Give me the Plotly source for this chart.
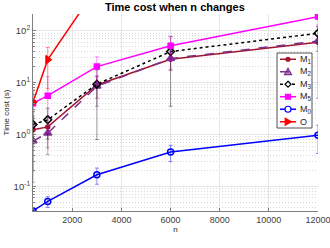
import plotly.graph_objects as go

n = [400, 1000, 3000, 6000, 12000]

m1 = [1.23, 1.4, 9.0, 28, 60]
m1_err = [1.03, 0.85, 4.0, 10, 20]
m2 = [0.75, 1.06, 8.5, 29, 63]
m2_err = [0.63, 0.65, 5.0, 12, 58]
m3 = [1.56, 1.92, 9.3, 39.5, 89]
m3_up = [1.2, 1.3, 8.2, 38, 30]
m3_dn = [0.9, 1.1, 8.5, 36, 30]
m5 = [4.0, 5.6, 20.3, 51, 186]
m5_up = [3.0, 7.4, 11, 25, 57]
m5_dn = [2.5, 4.5, 11, 25, 57]
m0 = [0.034, 0.0515, 0.168, 0.46, 0.97]
m0_err = [0.003, 0.012, 0.058, 0.16, 0.54]
o = [4.2, 27.6, 680, 3000, 12000]
o_up = [3.0, 20, 200, 800, 3000]
o_dn = [3.0, 20, 200, 800, 3000]

x_ticks = [2000, 4000, 6000, 8000, 10000, 12000]
x_text = ["2000", "4000", "6000", "8000", "10000", "12000"]
y_ticks = [0.1, 1, 10, 100]
y_text = ["10<sup>-1</sup>", "10<sup>0</sup>", "10<sup>1</sup>", "10<sup>2</sup>"]
y_minor = [k * 10 ** e for e in (-2, -1, 0, 1, 2) for k in range(2, 10)]

series = [
    ("M<sub>1</sub>", m1, m1_err, m1_err, "#A2142F", "rgba(162,20,47,0.45)", "solid", "circle", 4),
    ("M<sub>2</sub>", m2, m2_err, m2_err, "#7E2F8E", "rgba(126,47,142,0.45)", "dash", "triangle-up", 7),
    ("M<sub>3</sub>", m3, m3_up, m3_dn, "#000000", "rgba(0,0,0,0.4)", "dot", "diamond-open", 6),
    ("M<sub>5</sub>", m5, m5_up, m5_dn, "#FF00FF", "rgba(255,0,255,0.45)", "solid", "square", 5),
    ("M<sub>0</sub>", m0, m0_err, m0_err, "#0000FF", "rgba(0,0,255,0.45)", "solid", "circle-open", 6),
    ("O", o, o_up, o_dn, "#FF0000", "rgba(255,0,0,0.45)", "solid", "triangle-right", 7),
]

W, H = 330, 248
L, R, T, B = 33, 12, 14, 37
PW, PH = W - L - R, H - T - B


def px(x):
    return (x - L) / PW


def py(y):
    return (H - B - y) / PH


fig = go.Figure()
for name, ys, up, dn, col, ecol, dash, sym, ms in series:
    fig.add_trace(go.Scatter(
        x=n, y=ys, name=name, mode="lines+markers", showlegend=False,
        line=dict(color=col, width=1.5, dash=dash),
        marker=dict(symbol=sym, size=ms, color=col, line=dict(color=col, width=1.5)),
        error_y=dict(type="data", symmetric=False, array=up, arrayminus=dn,
                     color=ecol, thickness=1, width=2),
    ))

# hand-drawn compact legend (box, samples, labels)
shapes = []
annotations = []
bx0, bx1, by0, by1 = 277, 312, 53, 128
shapes.append(dict(type="rect", xref="paper", yref="paper", x0=px(bx0), x1=px(bx1),
                   y0=py(by1), y1=py(by0), fillcolor="white",
                   line=dict(color="#262626", width=0.8), layer="above"))
step = (by1 - by0) / len(series)
for i, (name, ys, up, dn, col, ecol, dash, sym, ms) in enumerate(series):
    cy = by0 + step * (i + 0.5)
    shapes.append(dict(type="line", xref="paper", yref="paper", x0=px(280), x1=px(296),
                       y0=py(cy), y1=py(cy), line=dict(color=col, width=1.5, dash=dash),
                       layer="above"))
    cx = 288
    r = ms / 2.0
    mk = dict(xref="paper", yref="paper", layer="above", line=dict(color=col, width=1.2))
    if sym == "circle":
        shapes.append(dict(type="circle", x0=px(cx - r), x1=px(cx + r), y0=py(cy + r),
                           y1=py(cy - r), fillcolor=col, **mk))
    elif sym == "circle-open":
        shapes.append(dict(type="circle", x0=px(cx - r), x1=px(cx + r), y0=py(cy + r),
                           y1=py(cy - r), fillcolor="white", **mk))
    elif sym == "square":
        shapes.append(dict(type="rect", x0=px(cx - r), x1=px(cx + r), y0=py(cy + r),
                           y1=py(cy - r), fillcolor=col, **mk))
    else:
        if sym == "triangle-up":
            pts = [(cx, cy - r), (cx + r, cy + r * 0.8), (cx - r, cy + r * 0.8)]
            fill = "rgba(126,47,142,0.6)"
        elif sym == "diamond-open":
            pts = [(cx, cy - r), (cx + r, cy), (cx, cy + r), (cx - r, cy)]
            fill = "white"
        else:
            pts = [(cx + r, cy), (cx - r * 0.8, cy - r), (cx - r * 0.8, cy + r)]
            fill = col
        path = "M " + " L ".join(f"{px(a):.5f},{py(b):.5f}" for a, b in pts) + " Z"
        shapes.append(dict(type="path", path=path, fillcolor=fill, **mk))
    annotations.append(dict(xref="paper", yref="paper", x=px(298), y=py(cy), text=name,
                            showarrow=False, xanchor="left", yanchor="middle",
                            font=dict(size=9, color="#262626")))

fig.update_layout(
    width=W, height=H,
    margin=dict(l=L, r=R, t=T, b=B),
    paper_bgcolor="white", plot_bgcolor="white",
    showlegend=False,
    font=dict(family="Liberation Sans, Arial, sans-serif", size=9, color="#404040"),
    title=dict(text="<b>Time cost when n changes</b>", x=0.53, xanchor="center",
               y=0.985, yanchor="top", font=dict(size=11, color="#000000")),
    shapes=shapes, annotations=annotations,
    xaxis=dict(range=[400, 12000], tickvals=x_ticks, ticktext=x_text, showgrid=True,
               gridcolor="#e6e6e6", gridwidth=1, showline=True, linecolor="#808080",
               ticks="inside", ticklen=3, tickcolor="#808080", zeroline=False,
               automargin=False, ticklabeloverflow="allow", tickfont=dict(size=9),
               title=dict(text="n", font=dict(size=8, color="#262626"), standoff=0)),
    yaxis=dict(type="log", range=[-1.473, 2.32], tickvals=y_ticks, ticktext=y_text,
               showgrid=True, gridcolor="#e6e6e6", gridwidth=1, showline=True,
               linecolor="#808080", ticks="inside", ticklen=3, tickcolor="#808080",
               zeroline=False, automargin=False, tickfont=dict(size=9.5),
               minor=dict(tickmode="array", tickvals=y_minor, showgrid=True,
                          gridcolor="#d9d9d9", griddash="1px,2px", gridwidth=1,
                          ticks="inside", ticklen=2, tickcolor="#808080"),
               title=dict(text="Time cost (s)", font=dict(size=8, color="#262626"), standoff=2)),
)

fig.write_html("out.html", config={"displayModeBar": False},
               post_script="document.body.style.margin='0';")
